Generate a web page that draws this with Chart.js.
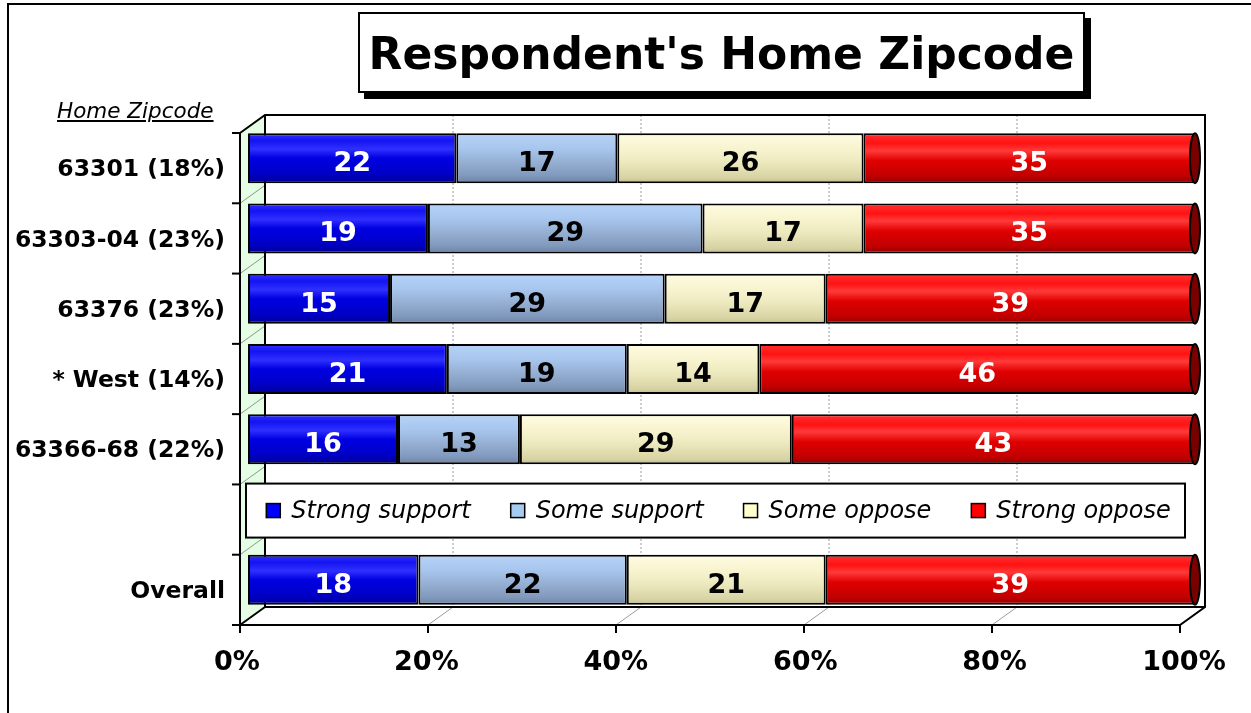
<!DOCTYPE html>
<html>
<head>
<meta charset="utf-8">
<script src="https://cdn.jsdelivr.net/npm/chart.js@4.4.0/dist/chart.umd.min.js"></script>
<style>
  body { margin: 0; overflow: hidden; background: #fff; font-family: 'DejaVu Sans', sans-serif; }
  #frame { position: absolute; left: 7px; top: 3px; width: 1400px; height: 900px; border: 2px solid #000; }
  #title { position: absolute; left: 358px; top: 12px; width: 723px; height: 77px; border: 2px solid #000; background: #fff;
           box-shadow: 6px 6px 0 #000; text-align: center; line-height: 79px; font-weight: bold; font-size: 44px; z-index: 2; }
  #sub { position: absolute; left: 57px; top: 98px; font-style: italic; font-size: 21.5px; text-decoration: underline; z-index: 2; }
  canvas { position: absolute; left: 0; top: 0; z-index: 1; }
</style>
</head>
<body>
<div id="frame"></div>
<div id="title">Respondent's Home Zipcode</div>
<div id="sub">Home Zipcode</div>
<canvas id="grafico" width="1251" height="713"></canvas>
<script>
// dados
const categorias = ['63301 (18%)', '63303-04 (23%)', '63376 (23%)', '* West (14%)', '63366-68 (22%)', '', 'Overall'];
const strongSupport = [22, 19, 15, 21, 16, null, 18];
const someSupport = [17, 29, 29, 19, 13, null, 22];
const someOppose = [26, 17, 17, 14, 29, null, 21];
const strongOppose = [35, 35, 39, 46, 43, null, 39];
const nomesSeries = ['Strong support', 'Some support', 'Some oppose', 'Strong oppose'];
const ticksX = [0, 20, 40, 60, 80, 100];

const coresLegenda = ['#0000ff', '#a6caf0', '#ffffcc', '#ff0000'];
const coresTexto = ['#ffffff', '#000000', '#000000', '#ffffff'];
const degrades = [
    [[0, '#3434ff'], [0.15, '#1414f2'], [0.32, '#3030ff'], [0.5, '#0000e2'], [0.8, '#0000c8'], [1, '#000096']],
    [[0, '#b6d4f8'], [0.3, '#a8c6ee'], [0.55, '#98b2d6'], [0.85, '#8099bc'], [1, '#6c82a2']],
    [[0, '#fffce2'], [0.3, '#f8f4d0'], [0.6, '#ece8bd'], [0.9, '#d6d2a2'], [1, '#c0bc8e']],
    [[0, '#ff3434'], [0.2, '#ff1212'], [0.35, '#ff3a3a'], [0.55, '#e00000'], [0.85, '#c20000'], [1, '#920000']]
];
const FONTE = "'DejaVu Sans', sans-serif";

const valores = [strongSupport, someSupport, someOppose, strongOppose];
// grafico 100% empilhado: cada linha normalizada para somar 100
const totais = categorias.map(function (c, j) {
    return valores.reduce((s, v) => s + (v[j] || 0), 0);
});

function corBarra(i) {
    return function (context) {
        const chart = context.chart;
        if (!chart.chartArea || !chart.scales.y) return coresLegenda[i];
        const y = chart.scales.y.getPixelForValue(context.dataIndex);
        const g = chart.ctx.createLinearGradient(0, y - 25, 0, y + 25);
        degrades[i].forEach(function (s) { g.addColorStop(s[0], s[1]); });
        return g;
    };
}

const datasets = valores.map(function (v, i) {
    return {
        label: nomesSeries[i],
        data: v.map((x, j) => x == null ? null : x * 100 / totais[j]),
        rotulos: v,
        backgroundColor: corBarra(i),
        borderColor: '#000',
        borderWidth: 2,
        borderSkipped: false,
        barPercentage: 1,
        categoryPercentage: 0.711
    };
});

// moldura 3D, paredes e grade
const moldura = {
    id: 'moldura',
    beforeDatasetsDraw(chart) {
        const ctx = chart.ctx, ca = chart.chartArea;
        const f = { l: ca.left - 8, r: ca.right - 15, t: ca.top + 10, b: ca.bottom + 10 };
        const k = { l: ca.left + 17, r: ca.right + 10, t: ca.top - 8, b: ca.bottom - 8 };
        const xf = v => f.l + v / 100 * (f.r - f.l);
        const xb = v => k.l + v / 100 * (k.r - k.l);
        ctx.save();
        // parede esquerda
        ctx.fillStyle = '#e4fde4';
        ctx.beginPath();
        ctx.moveTo(f.l, f.t); ctx.lineTo(k.l, k.t); ctx.lineTo(k.l, k.b); ctx.lineTo(f.l, f.b); ctx.closePath();
        ctx.fill();
        // diagonais na parede
        ctx.strokeStyle = '#8a9a8a'; ctx.lineWidth = 1;
        const n = categorias.length;
        for (let i = 1; i < n; i++) {
            const yf = f.t + i * (f.b - f.t) / n;
            ctx.beginPath(); ctx.moveTo(f.l, yf); ctx.lineTo(k.l, yf - 18); ctx.stroke();
        }
        // grade
        ctx.strokeStyle = '#9a9a9a';
        ctx.setLineDash([2, 2]);
        ticksX.slice(1, -1).forEach(function (v) {
            ctx.beginPath(); ctx.moveTo(xb(v), k.t); ctx.lineTo(xb(v), k.b); ctx.stroke();
        });
        ctx.setLineDash([]);
        ticksX.slice(1, -1).forEach(function (v) {
            ctx.beginPath(); ctx.moveTo(xf(v), f.b); ctx.lineTo(xb(v), k.b); ctx.stroke();
        });
        // contornos
        ctx.strokeStyle = '#000'; ctx.lineWidth = 2;
        ctx.beginPath();
        ctx.moveTo(f.l, f.t); ctx.lineTo(k.l, k.t); ctx.lineTo(k.r, k.t); ctx.lineTo(k.r, k.b); ctx.lineTo(f.r, f.b);
        ctx.lineTo(f.l, f.b); ctx.closePath(); ctx.stroke();
        ctx.beginPath(); ctx.moveTo(k.l, k.t); ctx.lineTo(k.l, k.b); ctx.lineTo(k.r, k.b); ctx.stroke();
        ctx.beginPath(); ctx.moveTo(f.l, f.b); ctx.lineTo(k.l, k.b); ctx.stroke();
        // marcas
        ticksX.forEach(function (v) {
            ctx.beginPath(); ctx.moveTo(xf(v), f.b); ctx.lineTo(xf(v), f.b + 8); ctx.stroke();
        });
        for (let i = 0; i <= n; i++) {
            const yf = f.t + i * (f.b - f.t) / n;
            ctx.beginPath(); ctx.moveTo(f.l - 8, yf); ctx.lineTo(f.l, yf); ctx.stroke();
        }
        ctx.restore();
    },
    afterDatasetsDraw(chart) {
        const ctx = chart.ctx, ca = chart.chartArea;
        ctx.save();
        // tampa do cilindro
        chart.getDatasetMeta(3).data.forEach(function (bar, j) {
            if (strongOppose[j] == null) return;
            ctx.beginPath();
            ctx.ellipse(bar.x, bar.y, 5, 25, 0, 0, Math.PI * 2);
            ctx.fillStyle = '#7a0000'; ctx.fill();
            ctx.strokeStyle = '#000'; ctx.lineWidth = 2; ctx.stroke();
        });
        // rotulos
        ctx.font = 'bold 27px ' + FONTE;
        ctx.textAlign = 'center'; ctx.textBaseline = 'middle';
        chart.data.datasets.forEach(function (ds, i) {
            chart.getDatasetMeta(i).data.forEach(function (bar, j) {
                if (ds.rotulos[j] == null) return;
                ctx.fillStyle = coresTexto[i];
                ctx.fillText(ds.rotulos[j], (bar.x + bar.base) / 2, bar.y + 6);
            });
        });
        // legenda na linha vazia
        const yc = chart.scales.y.getPixelForValue(5) + 1;
        const bx = ca.left - 2, bw = ca.right - 10 - bx;
        ctx.fillStyle = '#fff'; ctx.fillRect(bx, yc - 27, bw, 54);
        ctx.strokeStyle = '#000'; ctx.lineWidth = 2; ctx.strokeRect(bx, yc - 27, bw, 54);
        ctx.font = 'italic 24px ' + FONTE;
        ctx.textAlign = 'left';
        const larguras = nomesSeries.map(t => ctx.measureText(t).width);
        const total = larguras.reduce((a, b) => a + b, 0) + nomesSeries.length * 25 + (nomesSeries.length - 1) * 40;
        let x = bx + (bw - total) / 2 + 3;
        nomesSeries.forEach(function (t, i) {
            ctx.fillStyle = coresLegenda[i];
            ctx.fillRect(x, yc - 7, 14, 14);
            ctx.lineWidth = 1.5; ctx.strokeStyle = '#000';
            ctx.strokeRect(x, yc - 7, 14, 14);
            ctx.fillStyle = '#000';
            ctx.fillText(t, x + 25, yc + 1);
            x += 25 + larguras[i] + 40;
        });
        ctx.restore();
    }
};

const config = {
    type: 'bar',
    data: { labels: categorias, datasets: datasets },
    options: {
        indexAxis: 'y',
        responsive: false,
        animation: false,
        layout: { padding: { top: 123, right: 56, left: 0, bottom: 0 } },
        plugins: { legend: { display: false }, tooltip: { enabled: false } },
        scales: {
            x: {
                stacked: true,
                min: 0,
                max: 100,
                afterFit: function (s) { s.height = 98; s.paddingLeft = 0; s.paddingRight = 0; },
                afterBuildTicks: function (s) { s.ticks = ticksX.map(v => ({ value: v })); },
                grid: { display: false, drawTicks: false },
                border: { display: false },
                ticks: {
                    padding: 32,
                    labelOffset: -11,
                    color: '#000',
                    font: { family: FONTE, size: 27, weight: 'bold' },
                    callback: v => v + '%'
                }
            },
            y: {
                stacked: true,
                afterFit: function (s) { s.width = 248; s.paddingTop = 0; s.paddingBottom = 0; },
                grid: { display: false, drawTicks: false },
                border: { display: false },
                ticks: {
                    padding: 23,
                    labelOffset: 12,
                    color: '#000',
                    font: { family: FONTE, size: 23.5, weight: 'bold' }
                }
            }
        }
    },
    plugins: [moldura]
};

const ctxGrafico = document.getElementById('grafico').getContext('2d');
let Grafico = new Chart(ctxGrafico, config);
</script>
</body>
</html>
